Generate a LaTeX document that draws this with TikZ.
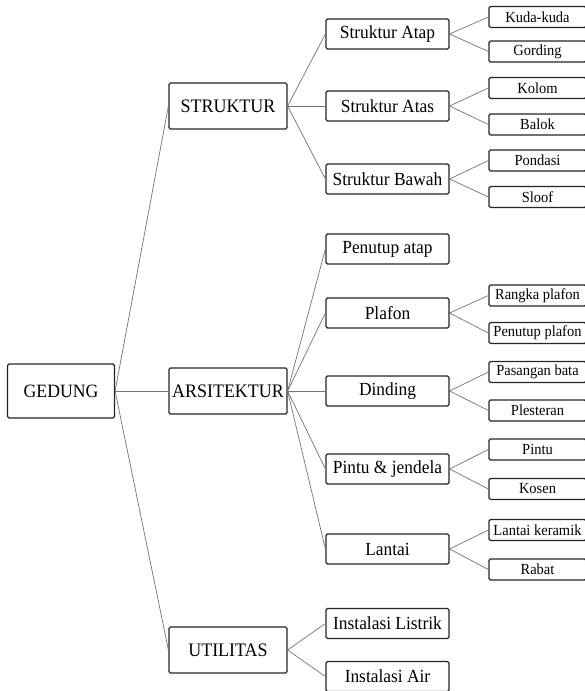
\documentclass[tikz,border=0pt]{standalone}
\usepackage{fontspec}
\setmainfont{Liberation Serif}[FakeStretch=0.94]
\begin{document}
\begin{tikzpicture}[x=1pt,y=-1pt,
  box/.style={draw=black!85,line width=1.2pt,rounded corners=1.5pt,fill=white,inner sep=0pt,align=center},
  lvA/.style={box,minimum width=107pt,minimum height=54pt,font=\fontsize{18.8}{21}\selectfont},
  lvB/.style={box,minimum width=118pt,minimum height=46pt,font=\fontsize{19.1}{21}\selectfont},
  lvC/.style={box,minimum width=123pt,minimum height=30pt,font=\fontsize{18.5}{21}\selectfont},
  lvD/.style={box,minimum width=97pt,minimum height=21pt,font=\fontsize{15.4}{17}\selectfont},
  link/.style={draw=black!55,line width=0.7pt}]
\useasboundingbox (0,0) rectangle (584,691);
% level 0
\node[lvA] (ged) at (61,391) {GEDUNG};
% level 1
\node[lvB] (str) at (228,106) {STRUKTUR};
\node[lvB] (ars) at (228,391) {ARSITEKTUR};
\node[lvB] (uti) at (228,650) {UTILITAS};
% level 2
\node[lvC] (atap) at (387.5,34) {Struktur Atap};
\node[lvC] (atas) at (387.5,106) {Struktur Atas};
\node[lvC] (bawah) at (387.5,179) {Struktur Bawah};
\node[lvC] (penatap) at (387.5,249) {Penutup atap};
\node[lvC] (plafon) at (387.5,313) {Plafon};
\node[lvC] (dinding) at (387.5,391) {Dinding};
\node[lvC] (pintuj) at (387.5,469) {Pintu \& jendela};
\node[lvC] (lantai) at (387.5,549) {Lantai};
\node[lvC] (listrik) at (387.5,623.5) {Instalasi Listrik};
\node[lvC] (air) at (387.5,676.5) {Instalasi Air};
% level 3
\node[lvD] (kuda) at (537.5,17) {Kuda-kuda};
\node[lvD] (gording) at (537.5,51.5) {Gording};
\node[lvD] (kolom) at (537.5,88) {Kolom};
\node[lvD] (balok) at (537.5,124.5) {Balok};
\node[lvD] (pondasi) at (537.5,160.5) {Pondasi};
\node[lvD] (sloof) at (537.5,197) {Sloof};
\node[lvD] (rangka) at (537.5,295.5) {Rangka plafon};
\node[lvD] (penplafon) at (537.5,333) {Penutup plafon};
\node[lvD] (pasangan) at (537.5,372) {Pasangan bata};
\node[lvD] (plester) at (537.5,410.5) {Plesteran};
\node[lvD] (pintu) at (537.5,449.5) {Pintu};
\node[lvD] (kosen) at (537.5,489) {Kosen};
\node[lvD] (keramik) at (537.5,530) {Lantai keramik};
\node[lvD] (rabat) at (537.5,569.5) {Rabat};
% connectors
\foreach \p/\c in {ged/str,ged/ars,ged/uti,
  str/atap,str/atas,str/bawah,
  ars/penatap,ars/plafon,ars/dinding,ars/pintuj,ars/lantai,
  uti/listrik,uti/air,
  atap/kuda,atap/gording,atas/kolom,atas/balok,bawah/pondasi,bawah/sloof,
  plafon/rangka,plafon/penplafon,dinding/pasangan,dinding/plester,
  pintuj/pintu,pintuj/kosen,lantai/keramik,lantai/rabat}
  \draw[link] (\p.east) -- (\c.west);
\end{tikzpicture}
\end{document}
